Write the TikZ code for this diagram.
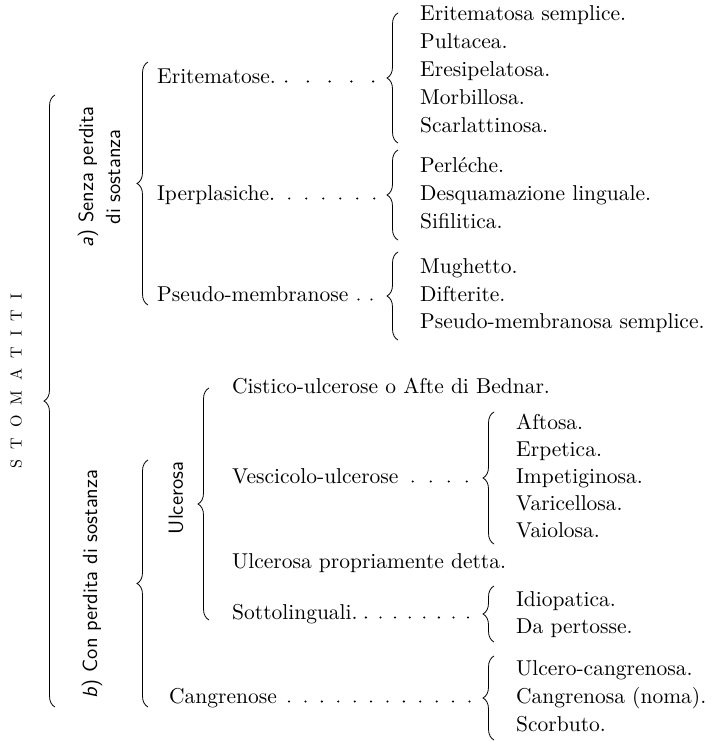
\documentclass[tikz,border=0pt]{standalone}
\usepackage{fontspec}
\setmainfont{lmroman10-regular.otf}[ItalicFont=lmroman10-italic.otf]
\setsansfont{lmsans10-regular.otf}[ItalicFont=lmsans10-oblique.otf]
\usetikzlibrary{decorations.pathreplacing}

\begin{document}
\begin{tikzpicture}[x=1pt,y=-1pt,
  txt/.style={anchor=west,inner sep=0pt,text height=15pt,text depth=5pt,font=\fontsize{21.5}{27}\selectfont},
  rot/.style={rotate=90,inner sep=0pt,font=\sffamily\fontsize{20.5}{27}\selectfont},
  brc/.style={decorate,decoration={brace,amplitude=11pt},line width=0.8pt},
  leader/.style={line width=2.3pt,line cap=round,dash pattern=on 0pt off #1}]
\useasboundingbox (0,0) rectangle (712,742);

% main title and first split
\node[rot,font=\rmfamily\fontsize{16}{16}\selectfont] (stoma) at (16,381) {\spaceskip=10pt S T O M A T I T I};
\draw[brc] (55,707) -- (55,95);

% a) senza perdita
\node[rot,align=center] (senza) at (99,177) {\textit{a}) Senza perdita\\di sostanza};
\draw[brc] (148,305) -- (148,62);
\node[txt] (erit) at (157,78) {Eritematose.};
\node[txt] (iper) at (157,195) {Iperplasiche.};
\node[txt] (pseudo) at (157,296) {Pseudo-membranose};

\coordinate (eritTip) at (387,78);
\coordinate (iperTip) at (387,195);
\coordinate (pseudoTip) at (387,296);
\draw[brc] (398,143) -- (398,13);
\draw[brc] (398,240) -- (398,150);
\draw[brc] (398,340) -- (398,252);
\draw[leader=21.75pt] ([xshift=10pt,yshift=-3.5pt]erit.east) -- ([xshift=-8pt,yshift=-3.5pt]eritTip);
\draw[leader=17pt] ([xshift=14pt,yshift=-3.5pt]iper.east) -- ([xshift=-10pt,yshift=-3.5pt]iperTip);
\draw[leader=13pt] ([xshift=10pt,yshift=-3.5pt]pseudo.east) -- ([xshift=-10pt,yshift=-3.5pt]pseudoTip);

\node[txt] (es) at (420,15) {Eritematosa semplice.};
\node[txt] (pult) at (420,43) {Pultacea.};
\node[txt] (eres) at (420,71) {Eresipelatosa.};
\node[txt] (morb) at (420,99) {Morbillosa.};
\node[txt] (scarl) at (420,127) {Scarlattinosa.};
\node[txt] (perl) at (420,167) {Perléche.};
\node[txt] (desq) at (420,195) {Desquamazione linguale.};
\node[txt] (sifil) at (420,223) {Sifilitica.};
\node[txt] (mugh) at (420,268) {Mughetto.};
\node[txt] (dift) at (420,296) {Difterite.};
\node[txt] (psem) at (420,323) {Pseudo-membranosa semplice.};

% b) con perdita
\node[rot] (con) at (92,584) {\textit{b}) Con perdita di sostanza};
\draw[brc] (148,707) -- (148,460);
\node[rot] (ulc) at (176,498) {Ulcerosa};
\draw[brc] (209,620) -- (209,388);
\node[txt] (cist) at (232,388) {Cistico-ulcerose o Afte di Bednar.};
\node[txt] (vesc) at (232,478) {Vescicolo-ulcerose};
\node[txt] (ulcprop) at (232,563) {Ulcerosa propriamente detta.};
\node[txt] (sott) at (232,614) {Sottolinguali.};
\node[txt] (cang) at (169,698) {Cangrenose};

\coordinate (vescTip) at (483,478);
\coordinate (sottTip) at (483,614);
\coordinate (cangTip) at (483,698);
\draw[brc] (494,544) -- (494,412);
\draw[brc] (494,642) -- (494,586);
\draw[brc] (494,740) -- (494,656);
\draw[leader=18pt] ([xshift=14pt,yshift=-3.5pt]vesc.east) -- ([xshift=-8pt,yshift=-3.5pt]vescTip);
\draw[leader=14.6pt] ([xshift=8pt,yshift=-3.5pt]sott.east) -- ([xshift=-8pt,yshift=-3.5pt]sottTip);
\draw[leader=16.4pt] ([xshift=12pt,yshift=-3.5pt]cang.east) -- ([xshift=-8pt,yshift=-3.5pt]cangTip);

\node[txt] (aft) at (516,424) {Aftosa.};
\node[txt] (erp) at (516,451) {Erpetica.};
\node[txt] (imp) at (516,478) {Impetiginosa.};
\node[txt] (vari) at (516,505) {Varicellosa.};
\node[txt] (vaio) at (516,532) {Vaiolosa.};
\node[txt] (idio) at (516,601) {Idiopatica.};
\node[txt] (pert) at (516,628) {Da pertosse.};
\node[txt] (ulcg) at (516,670) {Ulcero-cangrenosa.};
\node[txt] (cngn) at (516,698) {Cangrenosa (noma).};
\node[txt] (scorb) at (516,726) {Scorbuto.};
\end{tikzpicture}
\end{document}
